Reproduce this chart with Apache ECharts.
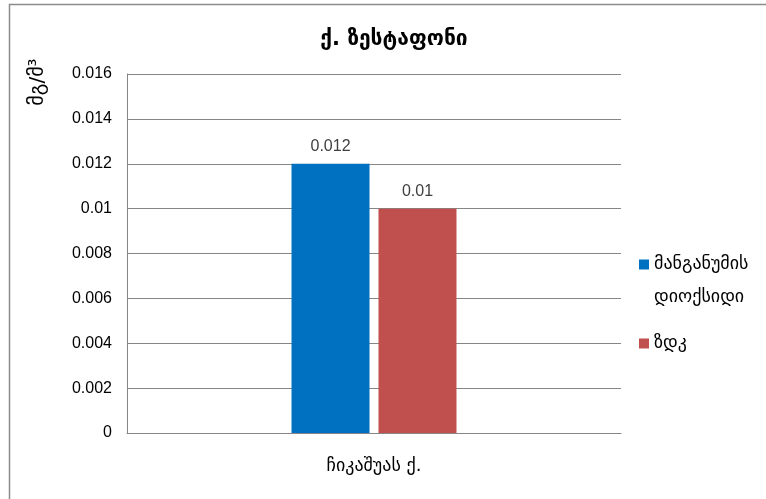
<!DOCTYPE html>
<html>
<head>
<meta charset="utf-8">
<script src="https://cdn.jsdelivr.net/npm/echarts@6/dist/echarts.min.js"></script>
<style>
html,body{margin:0;padding:0;background:#fff;}
#chart{width:766px;height:499px;}
</style>
</head>
<body>
<div id="chart"></div>
<script>
// Chart text and values
const titleText = 'ქ. ზესტაფონი';
const unitText = 'მგ/მ³';
const categories = ['ჩიკაშუას ქ.'];
const seriesNames = ['მანგანუმის დიოქსიდი', 'ზდკ'];
// a leading blank line keeps the swatch level with the first text line
const legendLabels = ['\nმანგანუმის\nდიოქსიდი', 'ზდკ'];
const manganeseValues = [0.012];
const limitValues = [0.01];
const yMin = 0, yMax = 0.016, yStep = 0.002;

const geoFont = '"DejaVu Sans", sans-serif';
const numFont = '"Liberation Sans", Arial, sans-serif';
const fmt = v => String(parseFloat(Number(v).toFixed(4)));

const chart = echarts.init(document.getElementById('chart'), null, {renderer: 'canvas'});
chart.setOption({
  animation: false,
  backgroundColor: '#ffffff',
  title: {
    text: titleText,
    left: 389, top: 24, textAlign: 'center',
    textStyle: {fontFamily: geoFont, fontSize: 21, fontWeight: 'bold', color: '#000'}
  },
  grid: {left: 127, right: 145, top: 74, bottom: 66},
  legend: {
    orient: 'vertical',
    left: 639, top: 215, padding: 0,
    itemWidth: 10, itemHeight: 10, itemGap: 13,
    icon: 'rect',
    data: seriesNames,
    formatter: name => legendLabels[seriesNames.indexOf(name)],
    textStyle: {fontFamily: geoFont, fontSize: 18, color: '#000', lineHeight: 33}
  },
  xAxis: {
    type: 'category',
    data: categories,
    axisLine: {lineStyle: {color: '#868686', width: 1}},
    axisTick: {show: false},
    axisLabel: {fontFamily: geoFont, fontSize: 18, color: '#000', margin: 24}
  },
  yAxis: {
    type: 'value',
    min: yMin, max: yMax, interval: yStep,
    axisLine: {show: true, lineStyle: {color: '#868686', width: 1}},
    axisTick: {show: false},
    splitLine: {lineStyle: {color: '#868686', width: 1}},
    axisLabel: {fontFamily: numFont, fontSize: 16, color: '#000', margin: 15, formatter: fmt}
  },
  series: [
    {
      name: seriesNames[0], type: 'bar', data: manganeseValues,
      barWidth: 78, barGap: '11.5%',
      itemStyle: {color: '#0070C0'},
      label: {show: true, position: 'top', distance: 9, formatter: p => fmt(p.value),
        fontFamily: numFont, fontSize: 16, color: '#404040'}
    },
    {
      name: seriesNames[1], type: 'bar', data: limitValues,
      barWidth: 78,
      itemStyle: {color: '#C0504D'},
      label: {show: true, position: 'top', distance: 9, formatter: p => fmt(p.value),
        fontFamily: numFont, fontSize: 16, color: '#404040'}
    }
  ],
  graphic: [
    {
      type: 'rect', silent: true, z: -1,
      shape: {x: 9.5, y: 4.5, width: 900, height: 700},
      style: {fill: null, stroke: '#8c8c8c', lineWidth: 1.5}
    },
    {
      type: 'text', x: 38, y: 82, rotation: Math.PI / 2,
      style: {text: unitText, fontFamily: geoFont, fontSize: 20, fill: '#000',
        align: 'center', verticalAlign: 'middle'}
    }
  ]
});
</script>
</body>
</html>
